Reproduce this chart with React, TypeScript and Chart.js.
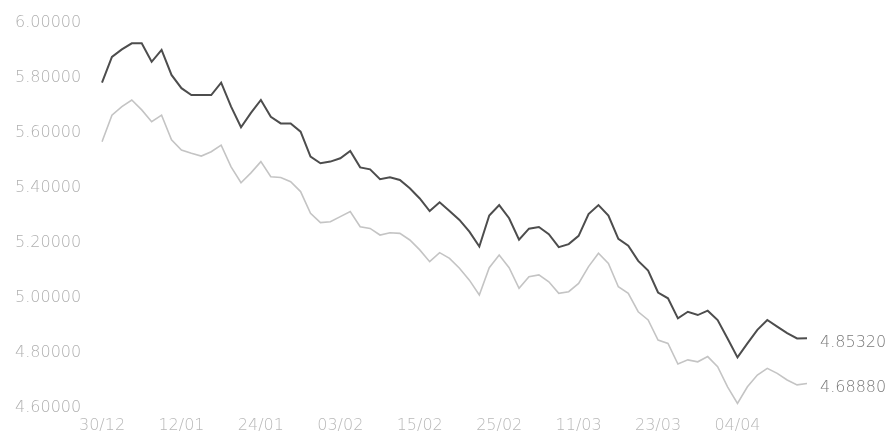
import React, { useEffect, useRef } from "react";
import { Chart, registerables } from "chart.js";

Chart.register(...registerables);

const tickLabels = ["30/12", "12/01", "24/01", "03/02", "15/02", "25/02", "11/03", "23/03", "04/04"];
const tickEvery = 8;

const upperSeries = [
  5.783, 5.877, 5.904, 5.926, 5.926, 5.859, 5.902, 5.811, 5.763, 5.738,
  5.738, 5.738, 5.783, 5.696, 5.621, 5.673, 5.720, 5.659, 5.635, 5.635,
  5.605, 5.514, 5.490, 5.496, 5.508, 5.535, 5.475, 5.468, 5.432, 5.439,
  5.429, 5.399, 5.362, 5.316, 5.348, 5.316, 5.284, 5.241, 5.187, 5.300,
  5.338, 5.290, 5.212, 5.252, 5.258, 5.232, 5.185, 5.196, 5.226, 5.305,
  5.338, 5.300, 5.215, 5.190, 5.135, 5.100, 5.020, 4.999, 4.926, 4.950,
  4.938, 4.954, 4.920, 4.853, 4.784, 4.835, 4.884, 4.920, 4.896, 4.872,
  4.853, 4.8532,
];

const lowerSeries = [
  5.568, 5.665, 5.696, 5.720, 5.684, 5.641, 5.665, 5.575, 5.538, 5.526,
  5.516, 5.532, 5.556, 5.477, 5.419, 5.455, 5.496, 5.441, 5.438, 5.423,
  5.387, 5.308, 5.274, 5.277, 5.296, 5.314, 5.259, 5.253, 5.229, 5.237,
  5.235, 5.211, 5.175, 5.132, 5.165, 5.144, 5.108, 5.065, 5.011, 5.110,
  5.156, 5.110, 5.035, 5.077, 5.084, 5.059, 5.017, 5.023, 5.053, 5.114,
  5.163, 5.126, 5.041, 5.017, 4.950, 4.920, 4.847, 4.835, 4.760, 4.775,
  4.768, 4.787, 4.750, 4.677, 4.617, 4.677, 4.720, 4.744, 4.726, 4.702,
  4.684, 4.6888,
];

const yMin = 4.6;
const yMax = 6.0;
const yStep = 0.2;

const FONT = "'DejaVu Sans', sans-serif";

const endLabelPlugin = {
  id: "endLabels",
  afterDatasetsDraw(chart: any) {
    const ctx = chart.ctx;
    ctx.save();
    ctx.font = `200 16px ${FONT}`;
    ctx.fillStyle = "#7a7a7a";
    ctx.textAlign = "left";
    ctx.textBaseline = "middle";
    chart.data.datasets.forEach((ds: any, i: number) => {
      const meta = chart.getDatasetMeta(i);
      const pts = meta.data;
      const last = pts[pts.length - 1];
      const v = ds.data[ds.data.length - 1];
      ctx.fillText(v.toFixed(5), last.x + 13, last.y + 4);
    });
    ctx.restore();
  },
};

export default function App() {
  const ref = useRef<HTMLCanvasElement | null>(null);
  useEffect(() => {
    if (!ref.current) return;
    const labels = upperSeries.map((_, i) => String(i));
    const chart = new Chart(ref.current, {
      type: "line",
      data: {
        labels,
        datasets: [
          {
            data: upperSeries,
            borderColor: "#4d4d4d",
            borderWidth: 2,
            pointRadius: 0,
            tension: 0,
          },
          {
            data: lowerSeries,
            borderColor: "#c4c4c4",
            borderWidth: 1.6,
            pointRadius: 0,
            tension: 0,
          },
        ],
      },
      options: {
        animation: false,
        responsive: false,
        devicePixelRatio: 1,
        layout: { padding: { left: 15, right: 82, top: 23, bottom: 0 } },
        plugins: { legend: { display: false }, tooltip: { enabled: false } },
        scales: {
          x: {
            type: "category",
            offset: false,
            border: { display: false },
            grid: { display: false, drawTicks: false },
            ticks: {
              autoSkip: false,
              maxRotation: 0,
              minRotation: 0,
              padding: 8,
              color: "#b8b8b8",
              font: { family: FONT, size: 16, weight: "200" as any },
              callback: (_v: any, idx: number) =>
                idx % tickEvery === 0 ? tickLabels[idx / tickEvery] ?? null : null,
            },
            afterFit: (s: any) => {
              s.height = 25;
            },
          },
          y: {
            min: yMin,
            max: yMax,
            border: { display: false },
            grid: { display: false, drawTicks: false },
            ticks: {
              stepSize: yStep,
              crossAlign: "far",
              padding: 0,
              color: "#b0b0b0",
              font: { family: FONT, size: 16, weight: "200" as any },
              callback: (v: any) => Number(v).toFixed(5),
            },
            afterFit: (s: any) => {
              s.width = 87;
            },
          },
        },
      },
      plugins: [endLabelPlugin],
    });
    return () => chart.destroy();
  }, []);
  return (
    <div style={{ position: "fixed", left: 0, top: 0, width: 889, height: 433, background: "#fff" }}>
      <canvas ref={ref} width={889} height={433} style={{ width: 889, height: 433 }} />
    </div>
  );
}
